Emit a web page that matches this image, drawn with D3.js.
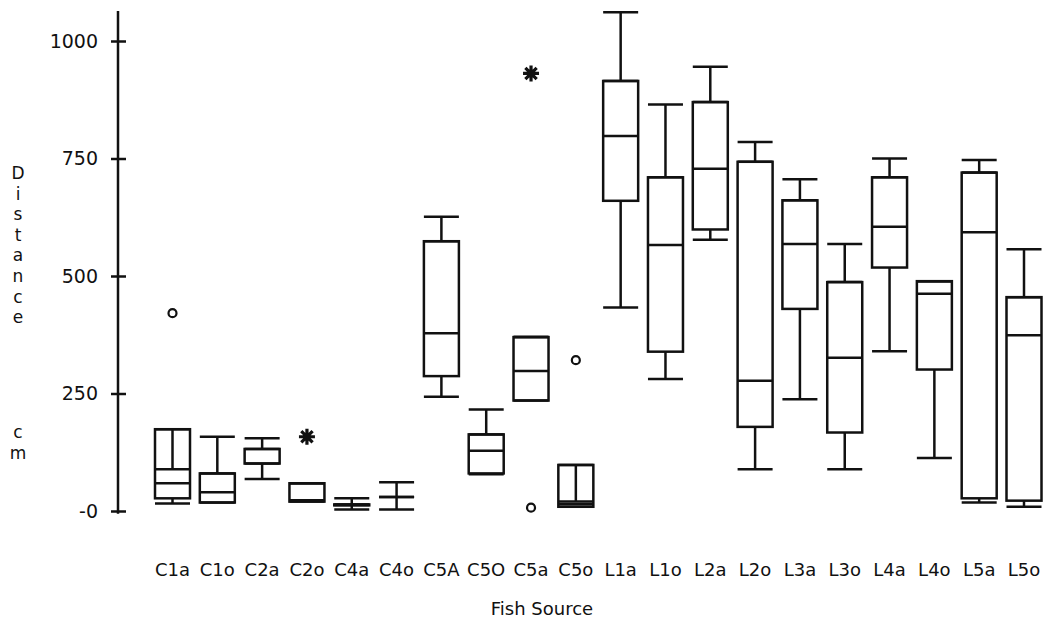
<!DOCTYPE html>
<html>
<head>
<meta charset="utf-8">
<script src="https://cdn.jsdelivr.net/npm/d3@7"></script>
<style>
  body { margin: 0; background: #fff; }
  svg { display: block; font-family: "DejaVu Sans", sans-serif; }
</style>
</head>
<body>
<div id="chart"></div>
<script>
// fish source groups and their box summaries (cm)
var groups = ["C1a","C1o","C2a","C2o","C4a","C4o","C5A","C5O","C5a","C5o",
              "L1a","L1o","L2a","L2o","L3a","L3o","L4a","L4o","L5a","L5o"];
var lowWhisker  = [16, 18, 68, 20, 3, 3, 243, 78, 235, 9, 433, 281, 577, 89, 238, 89, 340, 113, 18, 9];
var lowerQuart  = [27, 18, 101, 20, 12, 30, 287, 80, 235, 9, 660, 339, 599, 179, 430, 167, 518, 301, 27, 22];
var medians     = [59, 40, 101, 23, 13, 30, 378, 128, 298, 15, 798, 566, 728, 277, 568, 326, 605, 462, 593, 374];
var upperQuart  = [89, 80, 132, 59, 14, 30, 574, 163, 370, 20, 915, 710, 870, 743, 661, 487, 710, 489, 720, 455];
var highWhisker = [174, 158, 155, 59, 27, 61, 626, 216, 370, 98, 1061, 865, 945, 785, 706, 568, 750, 489, 747, 557];
// groups whose box outline runs up to the top whisker
var framed = ["C1a", "C5o"];

// outliers: circles and far-out stars
var outlierGroup = ["C1a", "C2o", "C5a", "C5a", "C5o"];
var outlierValue = [421, 158, 931, 7, 321];
var outlierKind  = ["circle", "star", "star", "circle", "circle"];

var yTicks = [0, 250, 500, 750, 1000];
var yTitle = ["D","i","s","t","a","n","c","e"];
var yUnit = ["c","m"];

var width = 1052, height = 622;

var svg = d3.select("#chart").append("svg")
  .attr("width", width)
  .attr("height", height);

var x = d3.scalePoint()
  .domain(groups)
  .range([172.5, 1024]);

var y = d3.scaleLinear()
  .domain([0, 1000])
  .range([511, 41]);

var boxW = 35;
var ink = "#111";
var lw = 2.5;

// y axis
var axisG = svg.append("g")
  .attr("transform", "translate(118,0)")
  .call(d3.axisLeft(y)
    .tickValues(yTicks)
    .tickSizeInner(7)
    .tickSizeOuter(0)
    .tickPadding(13)
    .tickFormat(d => d === 0 ? "-0" : d));

axisG.select(".domain").remove();
axisG.append("line")
  .attr("x1", 0).attr("x2", 0)
  .attr("y1", y(1064)).attr("y2", y(-6))
  .attr("stroke", ink).attr("stroke-width", lw);
axisG.selectAll(".tick line")
  .attr("x1", 8)
  .attr("stroke", ink)
  .attr("stroke-width", lw);
axisG.selectAll(".tick text")
  .attr("fill", ink)
  .style("font-size", "19px")
  .style("font-family", "DejaVu Sans, sans-serif");

// stacked y title
svg.append("g").selectAll("text")
  .data(yTitle)
  .enter().append("text")
  .attr("x", 18)
  .attr("y", (d, i) => 179 + i * 20.6)
  .attr("text-anchor", "middle")
  .attr("fill", ink)
  .style("font-size", "17px")
  .text(d => d);

svg.append("g").selectAll("text")
  .data(yUnit)
  .enter().append("text")
  .attr("x", 18)
  .attr("y", (d, i) => 438 + i * 20.6)
  .attr("text-anchor", "middle")
  .attr("fill", ink)
  .style("font-size", "17px")
  .text(d => d);

// boxes
var boxes = svg.append("g")
  .attr("fill", "none")
  .attr("stroke", ink)
  .attr("stroke-width", lw)
  .selectAll("g")
  .data(groups)
  .enter().append("g")
  .attr("transform", d => "translate(" + x(d) + ",0)");

boxes.each(function (g, i) {
  var sel = d3.select(this);
  var top = framed.includes(g) ? highWhisker[i] : upperQuart[i];

  // whiskers
  sel.append("line")
    .attr("x1", 0).attr("x2", 0)
    .attr("y1", y(upperQuart[i])).attr("y2", y(highWhisker[i]));
  sel.append("line")
    .attr("x1", 0).attr("x2", 0)
    .attr("y1", y(lowerQuart[i])).attr("y2", y(lowWhisker[i]));
  sel.append("line")
    .attr("x1", -boxW / 2).attr("x2", boxW / 2)
    .attr("y1", y(highWhisker[i])).attr("y2", y(highWhisker[i]));
  sel.append("line")
    .attr("x1", -boxW / 2).attr("x2", boxW / 2)
    .attr("y1", y(lowWhisker[i])).attr("y2", y(lowWhisker[i]));

  // box
  sel.append("rect")
    .attr("x", -boxW / 2)
    .attr("width", boxW)
    .attr("y", y(top))
    .attr("height", y(lowerQuart[i]) - y(top));
  sel.append("line")
    .attr("x1", -boxW / 2).attr("x2", boxW / 2)
    .attr("y1", y(upperQuart[i])).attr("y2", y(upperQuart[i]));
  sel.append("line")
    .attr("x1", -boxW / 2).attr("x2", boxW / 2)
    .attr("y1", y(medians[i])).attr("y2", y(medians[i]));
});

// outliers
var starPath = r => {
  var p = d3.path();
  for (var k = 0; k < 4; k++) {
    var a = k * Math.PI / 4;
    p.moveTo(-r * Math.cos(a), -r * Math.sin(a));
    p.lineTo(r * Math.cos(a), r * Math.sin(a));
  }
  return p.toString();
};

var outG = svg.append("g");
outlierGroup.forEach((g, i) => {
  if (outlierKind[i] === "circle") {
    outG.append("circle")
      .attr("cx", x(g)).attr("cy", y(outlierValue[i]))
      .attr("r", 4)
      .attr("fill", "none")
      .attr("stroke", ink)
      .attr("stroke-width", 2.2);
  } else {
    outG.append("path")
      .attr("transform", "translate(" + x(g) + "," + y(outlierValue[i]) + ")")
      .attr("d", starPath(8))
      .attr("stroke", ink)
      .attr("stroke-width", 3.2);
  }
});

// x labels
svg.append("g").selectAll("text")
  .data(groups)
  .enter().append("text")
  .attr("x", d => x(d))
  .attr("y", 576)
  .attr("text-anchor", "middle")
  .attr("fill", ink)
  .style("font-size", "18px")
  .text(d => d);

svg.append("text")
  .attr("x", 542)
  .attr("y", 615)
  .attr("text-anchor", "middle")
  .attr("fill", ink)
  .style("font-size", "18px")
  .text("Fish Source");
</script>
</body>
</html>
